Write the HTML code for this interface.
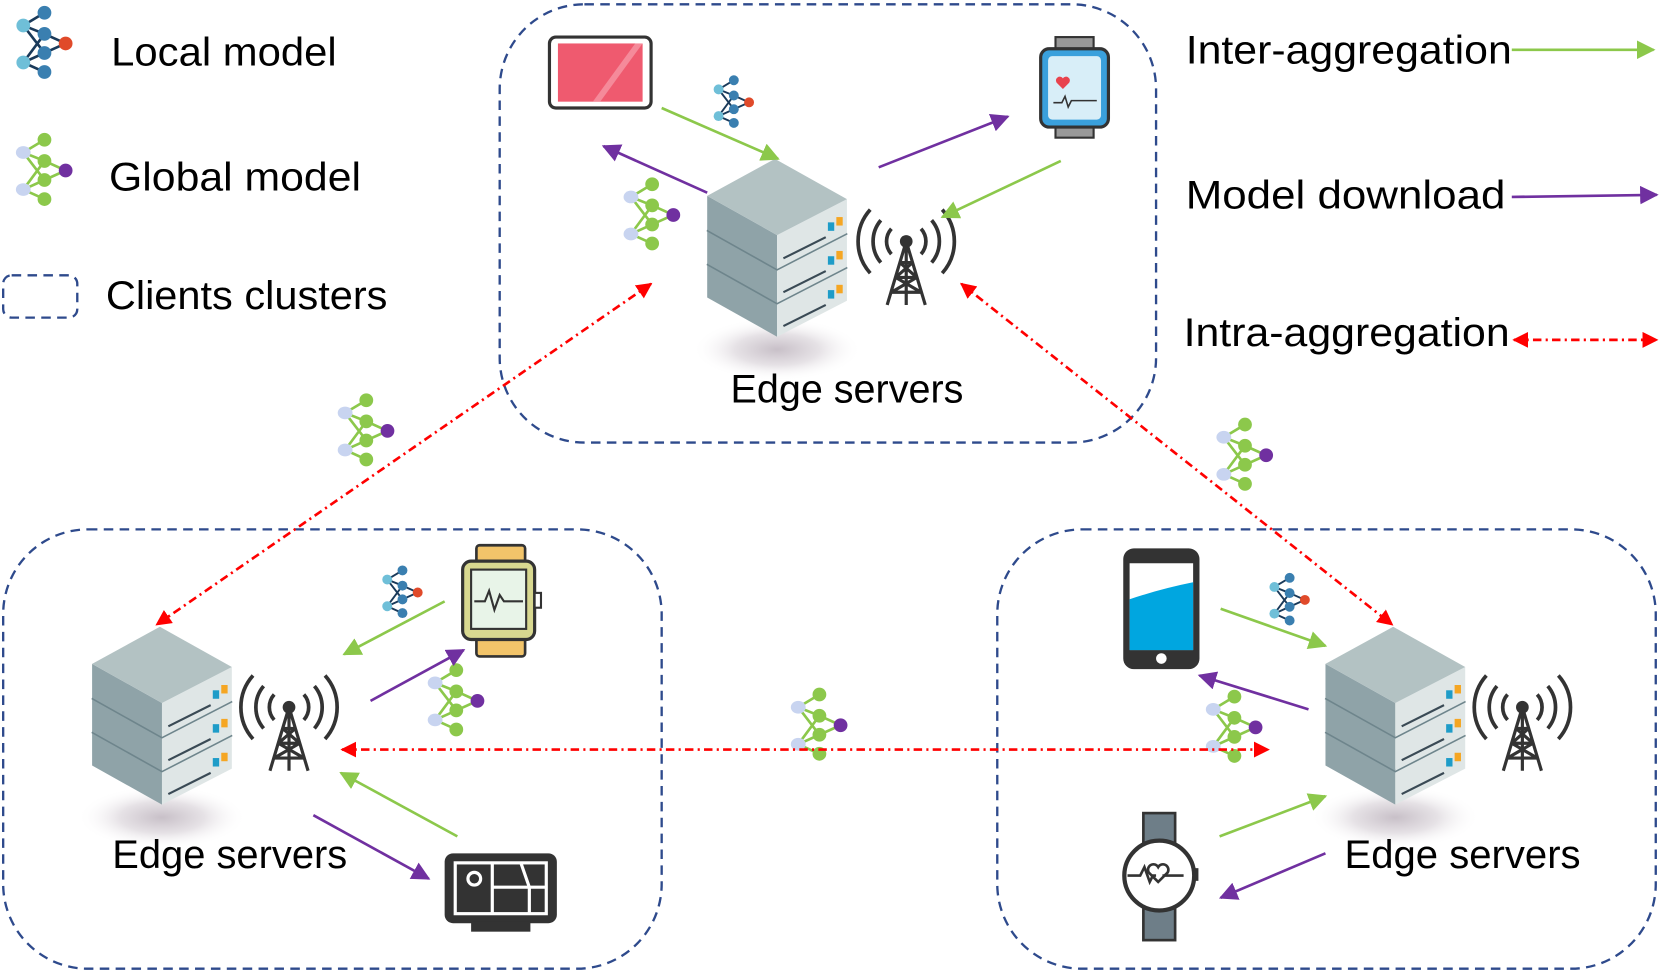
<!DOCTYPE html>
<html><head><meta charset="utf-8"><style>
html,body{margin:0;padding:0;background:#fff;}
svg{display:block}
text{font-family:"Liberation Sans",sans-serif;fill:#000}
</style></head><body>
<svg width="1660" height="973" viewBox="0 0 1568 919" xmlns="http://www.w3.org/2000/svg">
<defs>
<marker id="ag" viewBox="0 0 10 10" refX="9" refY="5" markerWidth="7" markerHeight="7" orient="auto-start-reverse"><path d="M0,0L10,5L0,10z" fill="#8cc84b"/></marker>
<marker id="ap" viewBox="0 0 10 10" refX="9" refY="5" markerWidth="7" markerHeight="7" orient="auto-start-reverse"><path d="M0,0L10,5L0,10z" fill="#7030a0"/></marker>
<marker id="ar" viewBox="0 0 10 10" refX="9" refY="5" markerWidth="6" markerHeight="6" orient="auto-start-reverse"><path d="M0,0L10,5L0,10z" fill="#ff0000"/></marker>
<radialGradient id="sh"><stop offset="0" stop-color="#c8c0c8"/><stop offset="0.5" stop-color="#e6e2e6"/><stop offset="1" stop-color="#fff" stop-opacity="0"/></radialGradient>
<g id="lm">
 <g stroke="#1a3a5a" stroke-width="2.5"><path d="M8,20L28,8M8,20L28,28M8,20L28,46M8,55L28,28M8,55L28,46M8,55L28,64M28,28L48,37M28,46L48,37"/></g>
 <circle cx="8" cy="20" r="6.5" fill="#6fbfd8"/><circle cx="8" cy="55" r="6.5" fill="#6fbfd8"/>
 <circle cx="28" cy="8" r="6.5" fill="#3a7fb0"/><circle cx="28" cy="28" r="6.5" fill="#3a7fb0"/><circle cx="28" cy="46" r="6.5" fill="#3a7fb0"/><circle cx="28" cy="64" r="6.5" fill="#3a7fb0"/>
 <circle cx="48" cy="37" r="6.5" fill="#e04a2a"/>
</g>
<g id="gm">
 <g stroke="#8cc84b" stroke-width="2.5"><path d="M8,20L28,8M8,20L28,28M8,20L28,46M8,55L28,28M8,55L28,46M8,55L28,64M28,28L48,37M28,46L48,37"/></g>
 <ellipse cx="8" cy="20" rx="7" ry="6" fill="#c8d4f0"/><ellipse cx="8" cy="55" rx="7" ry="6" fill="#c8d4f0"/>
 <circle cx="28" cy="8" r="6.5" fill="#8cc84b"/><circle cx="28" cy="28" r="6.5" fill="#8cc84b"/><circle cx="28" cy="46" r="6.5" fill="#8cc84b"/><circle cx="28" cy="64" r="6.5" fill="#8cc84b"/>
 <circle cx="48" cy="37" r="6.5" fill="#7030a0"/>
</g>
<g id="slab">
 <path d="M0,35L66,72L66,104L0,67z" fill="#8fa3a8"/>
 <path d="M66,72L132,38L132,70L66,104z" fill="#dfe6e6"/>
 <path d="M72,94L112,74" stroke="#3a4a55" stroke-width="2"/>
 <rect x="114" y="60" width="6" height="8" fill="#1e9cc8"/><rect x="122" y="55" width="6" height="8" fill="#f5a623"/>
</g>
<g id="srv">
 <ellipse cx="66" cy="180" rx="80" ry="30" fill="url(#sh)"/>
 <use href="#slab" y="64"/><path d="M0,99L66,136L132,102" fill="none" stroke="#6e858c" stroke-width="3"/>
 <use href="#slab" y="32"/><path d="M0,67L66,104L132,70" fill="none" stroke="#6e858c" stroke-width="3"/>
 <use href="#slab"/>
 <path d="M0,35L64,0L132,38L66,72z" fill="#b3c2c3"/>
</g>
<g id="tw" fill="none" stroke="#333" stroke-width="3.5">
 <path d="M-14,-12A18,18 0 0 0 -14,12M14,-12A18,18 0 0 1 14,12"/>
 <path d="M-24,-20A31,31 0 0 0 -24,20M24,-20A31,31 0 0 1 24,20"/>
 <path d="M-34,-30A45,45 0 0 0 -34,30M34,-30A45,45 0 0 1 34,30"/>
 <path d="M0,0L-18,60M0,0L18,60M0,0V60M-6,20H6M-10,34L10,34M-14,48H14M-6,20L10,34M6,20L-10,34M-10,34L14,48M10,34L-14,48" stroke-width="3"/>
 <circle cx="0" cy="0" r="6" fill="#333" stroke="none"/>
</g>
</defs>

<!-- clusters -->
<g fill="none" stroke="#2e4a8c" stroke-width="2.2" stroke-dasharray="9,6">
<rect x="472" y="4" width="620" height="414" rx="80"/>
<rect x="3" y="500" width="622" height="415" rx="80"/>
<rect x="942" y="500" width="622" height="415" rx="80"/>
<rect x="3" y="260" width="70" height="40" rx="8"/>
</g>

<!-- legend -->
<use href="#lm" x="14" y="4"/>
<use href="#gm" x="14" y="124"/>
<g font-size="38" lengthAdjust="spacingAndGlyphs">
<text x="105" y="62" textLength="213" lengthAdjust="spacingAndGlyphs">Local model</text>
<text x="103" y="180" textLength="238" lengthAdjust="spacingAndGlyphs">Global model</text>
<text x="100" y="292" textLength="266" lengthAdjust="spacingAndGlyphs">Clients clusters</text>
<text x="1120" y="60" textLength="308" lengthAdjust="spacingAndGlyphs">Inter-aggregation</text>
<text x="1120" y="197" textLength="302" lengthAdjust="spacingAndGlyphs">Model download</text>
<text x="1118" y="327" textLength="308" lengthAdjust="spacingAndGlyphs">Intra-aggregation</text>
</g>
<line x1="1428" y1="47" x2="1562" y2="47" stroke="#8cc84b" stroke-width="2.5" marker-end="url(#ag)"/>
<line x1="1428" y1="186" x2="1565" y2="184" stroke="#7030a0" stroke-width="2.5" marker-end="url(#ap)"/>
<line x1="1430" y1="321" x2="1565" y2="321" stroke="#ff0000" stroke-width="2.5" stroke-dasharray="8,4,2,4" marker-start="url(#ar)" marker-end="url(#ar)"/>

<!-- servers -->
<use href="#srv" x="668" y="150"/>
<use href="#srv" x="87" y="592"/>
<use href="#srv" x="1252" y="592"/>
<use href="#tw" x="856" y="228"/>
<use href="#tw" x="273" y="668"/>
<use href="#tw" x="1438" y="668"/>
<text x="690" y="380" font-size="38" textLength="220" lengthAdjust="spacingAndGlyphs">Edge servers</text>
<text x="106" y="820" font-size="38" textLength="222" lengthAdjust="spacingAndGlyphs">Edge servers</text>
<text x="1270" y="820" font-size="38" textLength="223" lengthAdjust="spacingAndGlyphs">Edge servers</text>

<!-- devices -->
<rect x="519" y="35" width="96" height="67" rx="6" fill="#fff" stroke="#333" stroke-width="3"/>
<rect x="527" y="41" width="80" height="55" fill="#ef5a6f"/>
<path d="M560,96L600,41H607L567,96z" fill="#f58a9a"/>
<rect x="997" y="35" width="36" height="12" fill="#999" stroke="#333" stroke-width="2"/>
<rect x="997" y="118" width="36" height="12" fill="#999" stroke="#333" stroke-width="2"/>
<rect x="983" y="46" width="64" height="74" rx="8" fill="#3aa0dc" stroke="#333" stroke-width="3"/>
<rect x="990" y="53" width="50" height="60" rx="4" fill="#d8eef8"/>
<path d="M998,78l6,6 6,-6a3.5,3.5 0 0 0 -6,-4a3.5,3.5 0 0 0 -6,4z" fill="#e8434e"/>
<path d="M995,97h8l3,-6 3,10 3,-6h24" stroke="#333" fill="none" stroke-width="1.5"/>

<rect x="450" y="515" width="46" height="18" rx="3" fill="#f2c46a" stroke="#333" stroke-width="2.5"/>
<rect x="450" y="602" width="46" height="18" rx="3" fill="#f2c46a" stroke="#333" stroke-width="2.5"/>
<rect x="437" y="530" width="68" height="74" rx="8" fill="#d8d890" stroke="#333" stroke-width="3"/>
<rect x="445" y="538" width="52" height="56" fill="#e8f4e8" stroke="#333" stroke-width="2"/>
<path d="M448,568h10l4,-10 5,18 5,-14 4,6h18" stroke="#333" fill="none" stroke-width="2"/>
<rect x="505" y="560" width="6" height="14" fill="#fff" stroke="#333" stroke-width="2"/>

<rect x="420" y="806" width="106" height="66" rx="8" fill="#333"/>
<rect x="445" y="870" width="56" height="10" fill="#333"/>
<g stroke="#fff" stroke-width="3" fill="none"><rect x="430" y="815" width="86" height="48"/><path d="M465,815v48M465,838h51M492,815l8,23v25"/><circle cx="448" cy="830" r="6"/></g>

<rect x="1061" y="518" width="72" height="114" rx="10" fill="#333"/>
<rect x="1067" y="532" width="60" height="82" fill="#fff"/>
<path d="M1067,566q30,-10 60,-16v64h-60z" fill="#00a6e0"/>
<circle cx="1097" cy="622" r="5" fill="#fff"/>

<rect x="1080" y="768" width="30" height="28" fill="#6e7e88" stroke="#333" stroke-width="2.5"/>
<rect x="1080" y="858" width="30" height="30" fill="#6e7e88" stroke="#333" stroke-width="2.5"/>
<circle cx="1095" cy="827" r="33" fill="#fff" stroke="#333" stroke-width="4"/>
<path d="M1065,827h12l4,-8 5,14 3,-6h3m6,0h20" stroke="#333" fill="none" stroke-width="2.5"/>
<path d="M1094,833l-9,-9a5,5 0 0 1 9,-5a5,5 0 0 1 9,5z" fill="none" stroke="#333" stroke-width="2.5"/>
<rect x="1127" y="820" width="5" height="12" fill="#333"/>

<!-- model icons -->
<use href="#lm" transform="translate(673,70) scale(0.72)"/>
<use href="#gm" transform="translate(588,166) scale(1)"/>
<use href="#gm" transform="translate(318,370) scale(1)"/>
<use href="#gm" transform="translate(1148,393) scale(1)"/>
<use href="#lm" transform="translate(360,533) scale(0.72)"/>
<use href="#gm" transform="translate(403,625) scale(1)"/>
<use href="#gm" transform="translate(746,648) scale(1)"/>
<use href="#lm" transform="translate(1198,540) scale(0.72)"/>
<use href="#gm" transform="translate(1138,650) scale(1)"/>

<!-- arrows -->
<g stroke-width="2.5" fill="none">
<line x1="625" y1="102" x2="735" y2="150" stroke="#8cc84b" marker-end="url(#ag)"/>
<line x1="668" y1="182" x2="570" y2="138" stroke="#7030a0" marker-end="url(#ap)"/>
<line x1="830" y1="158" x2="952" y2="110" stroke="#7030a0" marker-end="url(#ap)"/>
<line x1="1002" y1="152" x2="890" y2="205" stroke="#8cc84b" marker-end="url(#ag)"/>
<line x1="420" y1="568" x2="325" y2="618" stroke="#8cc84b" marker-end="url(#ag)"/>
<line x1="350" y1="662" x2="438" y2="614" stroke="#7030a0" marker-end="url(#ap)"/>
<line x1="432" y1="790" x2="322" y2="730" stroke="#8cc84b" marker-end="url(#ag)"/>
<line x1="296" y1="770" x2="405" y2="830" stroke="#7030a0" marker-end="url(#ap)"/>
<line x1="1153" y1="575" x2="1252" y2="610" stroke="#8cc84b" marker-end="url(#ag)"/>
<line x1="1236" y1="670" x2="1133" y2="638" stroke="#7030a0" marker-end="url(#ap)"/>
<line x1="1152" y1="790" x2="1252" y2="752" stroke="#8cc84b" marker-end="url(#ag)"/>
<line x1="1252" y1="806" x2="1153" y2="848" stroke="#7030a0" marker-end="url(#ap)"/>
<g stroke="#ff0000" stroke-dasharray="8,4,2,4">
<line x1="615" y1="268" x2="148" y2="590" marker-start="url(#ar)" marker-end="url(#ar)"/>
<line x1="908" y1="268" x2="1315" y2="590" marker-start="url(#ar)" marker-end="url(#ar)"/>
<line x1="323" y1="708" x2="1198" y2="708" marker-start="url(#ar)" marker-end="url(#ar)"/>
</g>
</g>
</svg>
</body></html>
